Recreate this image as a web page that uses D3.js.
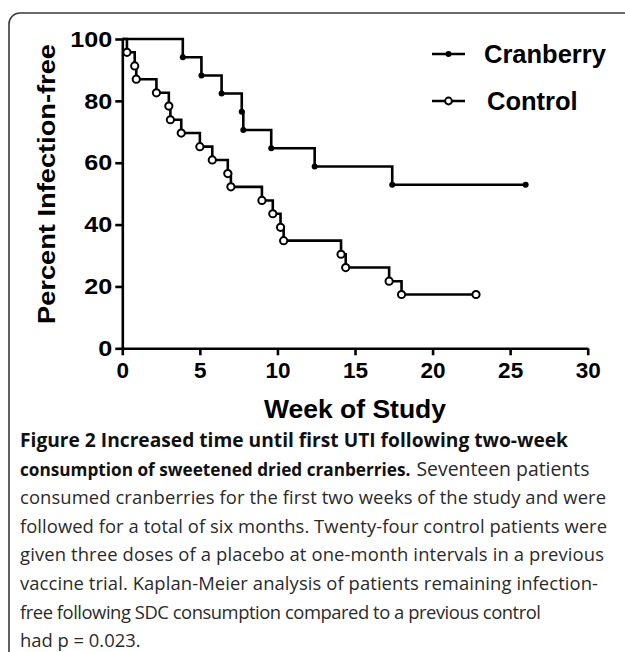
<!DOCTYPE html>
<html>
<head>
<meta charset="utf-8">
<script src="https://cdn.jsdelivr.net/npm/d3@7"></script>
<style>
body{margin:0;background:#fff;}
svg{display:block;}
</style>
</head>
<body>
<svg id="chart" width="625" height="652"></svg>
<script>
// Kaplan-Meier steps (week, percent infection-free)
var cranTimes = [3.9, 5.1, 6.4, 7.7, 7.8, 9.6, 12.4, 17.4];
var cranSurv  = [94.1, 88.2, 82.4, 76.5, 70.6, 64.7, 58.8, 52.9];
var cranEnd   = 26.0;

var ctrlTimes = [0.3, 0.8, 0.9, 2.2, 3.0, 3.1, 3.8, 5.0, 5.8, 6.8, 7.0, 9.0, 9.7, 10.2, 10.4, 14.1, 14.4, 17.2, 18.0];
var ctrlSurv  = [95.7, 91.3, 87.0, 82.6, 78.3, 73.9, 69.6, 65.2, 60.9, 56.5, 52.2, 47.8, 43.5, 39.1, 34.8, 30.4, 26.1, 21.7, 17.4];
var ctrlEnd   = 22.8;

var xTicks = [0, 5, 10, 15, 20, 25, 30];
var yTicks = [0, 20, 40, 60, 80, 100];
var legendNames = ["Cranberry", "Control"];

var captionBold = ["Figure 2 Increased time until first UTI following two-week", "consumption of sweetened dried cranberries."];
var captionRest = "Seventeen patients";
var captionLines = [
  "consumed cranberries for the first two weeks of the study and were",
  "followed for a total of six months. Twenty-four control patients were",
  "given three doses of a placebo at one-month intervals in a previous",
  "vaccine trial. Kaplan-Meier analysis of patients remaining infection-",
  "free following SDC consumption compared to a previous control",
  "had p = 0.023."
];
// measured line widths in the original figure (null = natural)
var captionWidths = [586, 587, 584, 578, 521, null];

var svg = d3.select("#chart");
var axisFont = "'Liberation Sans', Arial, sans-serif";
var capFont = "'Open Sans', sans-serif";

// frame (rounded corner, runs off right and bottom)
svg.append("rect")
  .attr("x", 9).attr("y", 13)
  .attr("width", 640).attr("height", 660)
  .attr("rx", 11)
  .attr("fill", "none")
  .attr("stroke", "#3a3a3a")
  .attr("stroke-width", 1.6);

var x = d3.scaleLinear().domain([0, 30]).range([122.3, 587.7]);
var y = d3.scaleLinear().domain([0, 100]).range([348.3, 39]);

var xAxis = svg.append("g")
  .attr("transform", "translate(0," + y(0) + ")")
  .call(d3.axisBottom(x).tickValues(xTicks).tickSize(7).tickSizeOuter(0).tickPadding(7));
var yAxis = svg.append("g")
  .attr("transform", "translate(" + x(0) + ",0)")
  .call(d3.axisLeft(y).tickValues(yTicks).tickSize(7).tickSizeOuter(0).tickPadding(3));

[xAxis, yAxis].forEach(function(g){
  g.select(".domain").attr("stroke", "#000").attr("stroke-width", 2.6);
  g.selectAll(".tick line").attr("stroke", "#000").attr("stroke-width", 2.6);
  g.selectAll(".tick text")
    .attr("fill", "#000")
    .style("font-family", axisFont)
    .style("font-weight", "bold")
    .style("font-size", "22.5px");
});
// the original digits are a little wider than Arial's
yAxis.selectAll(".tick text")
  .attr("textLength", function(d){ return String(d).length * 14; })
  .attr("lengthAdjust", "spacingAndGlyphs");

svg.append("text")
  .attr("transform", "translate(55,184) rotate(-90)")
  .attr("text-anchor", "middle")
  .attr("textLength", 280)
  .attr("lengthAdjust", "spacingAndGlyphs")
  .style("font-family", axisFont).style("font-weight", "bold").style("font-size", "24px")
  .text("Percent Infection-free");

svg.append("text")
  .attr("x", 355).attr("y", 418)
  .attr("text-anchor", "middle")
  .style("font-family", axisFont).style("font-weight", "bold").style("font-size", "26.5px")
  .text("Week of Study");

// step curves
function steps(times, surv, end){
  var pts = [[0, 100]];
  for(var i=0;i<times.length;i++){ pts.push([times[i], surv[i]]); }
  pts.push([end, surv[surv.length-1]]);
  return pts;
}
var line = d3.line()
  .x(function(d){ return x(d[0]); })
  .y(function(d){ return y(d[1]); })
  .curve(d3.curveStepAfter);

var cranPts = steps(cranTimes, cranSurv, cranEnd);
var ctrlPts = steps(ctrlTimes, ctrlSurv, ctrlEnd);

svg.append("path").attr("d", line(cranPts))
  .attr("fill", "none").attr("stroke", "#000").attr("stroke-width", 2.6);
svg.append("path").attr("d", line(ctrlPts))
  .attr("fill", "none").attr("stroke", "#000").attr("stroke-width", 2.6);

svg.selectAll(".cdot").data(cranPts.slice(1)).enter()
  .append("circle").attr("class", "cdot")
  .attr("cx", function(d){ return x(d[0]); })
  .attr("cy", function(d){ return y(d[1]); })
  .attr("r", 3)
  .attr("fill", "#000");

svg.selectAll(".odot").data(ctrlPts.slice(1)).enter()
  .append("circle").attr("class", "odot")
  .attr("cx", function(d){ return x(d[0]); })
  .attr("cy", function(d){ return y(d[1]); })
  .attr("r", 3.6)
  .attr("fill", "#fff")
  .attr("stroke", "#000")
  .attr("stroke-width", 2);

// legend
var legY = [54, 101];
legendNames.forEach(function(name, i){
  var g = svg.append("g");
  g.append("line").attr("x1", 432).attr("x2", 465).attr("y1", legY[i]).attr("y2", legY[i])
    .attr("stroke", "#000").attr("stroke-width", 2.6);
  if(i === 0){
    g.append("circle").attr("cx", 448.5).attr("cy", legY[i]).attr("r", 3).attr("fill", "#000");
  } else {
    g.append("circle").attr("cx", 448.5).attr("cy", legY[i]).attr("r", 3.4)
      .attr("fill", "#fff").attr("stroke", "#000").attr("stroke-width", 2);
  }
  g.append("text").attr("x", i === 0 ? 484 : 487).attr("y", legY[i] + 9)
    .style("font-family", axisFont).style("font-weight", "bold").style("font-size", "25.5px")
    .text(name);
});

// caption
var capX = 20, capY0 = 447, capDy = 28.6;
var cap = svg.append("g").style("font-family", capFont).style("font-size", "18.4px").attr("fill", "#2a2a2a");
cap.append("text").attr("x", capX).attr("y", capY0)
  .attr("textLength", 548).attr("lengthAdjust", "spacingAndGlyphs")
  .style("font-weight", "bold").attr("fill", "#111").style("font-size", "19px").text(captionBold[0]);
var l2 = cap.append("text").attr("x", capX).attr("y", capY0 + capDy);
l2.append("tspan").style("font-weight", "bold").attr("fill", "#111").style("font-size", "17.2px")
  .text(captionBold[1]);
l2.append("tspan").attr("dx", 6).style("font-size", "19.4px").text(captionRest);
captionLines.forEach(function(t, i){
  var tx = cap.append("text").attr("x", capX).attr("y", capY0 + capDy * (i + 2)).text(t);
  if(captionWidths[i]){
    tx.attr("textLength", captionWidths[i]).attr("lengthAdjust", "spacing");
  }
});
</script>
</body>
</html>
